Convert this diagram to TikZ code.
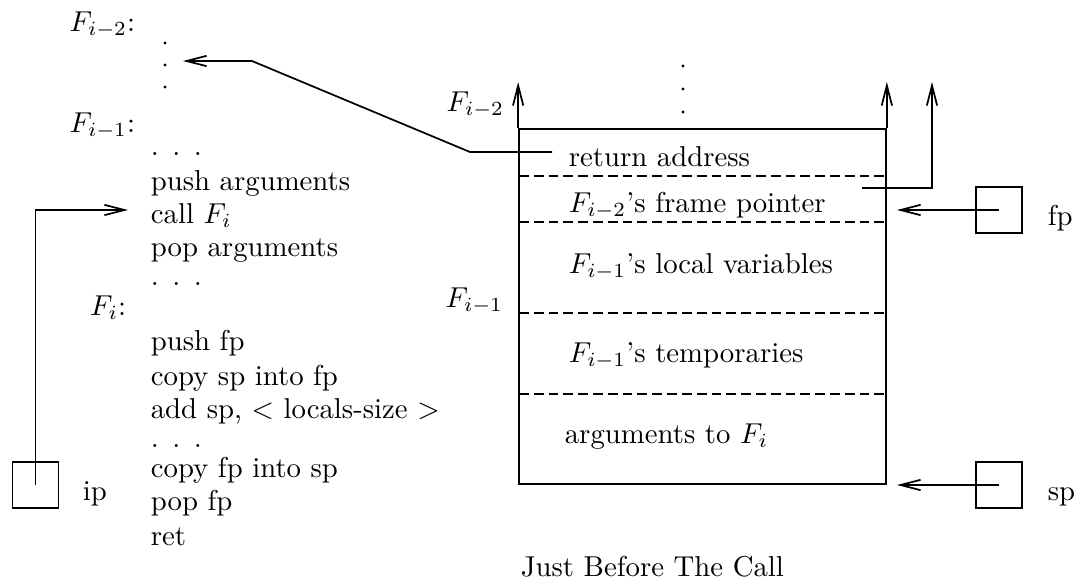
\documentclass[tikz,border=0pt]{standalone}
\usepackage{tikz}
\usetikzlibrary{positioning,arrows.meta}
\newcommand{\codedots}{.\hspace{4.7pt}.\hspace{4.7pt}.}

\begin{document}
\begin{tikzpicture}[
  x=0.3477pt, y=-0.3477pt,
  line width=0.6pt,
  code/.style={anchor=base west, inner sep=0pt},
  lbl/.style={anchor=base east, inner sep=0pt},
  reg/.style={draw, minimum size=16pt, inner sep=0pt},
  sep/.style={dash pattern=on 3.4pt off 1.75pt},
  ptr/.style={-{Straight Barb[length=7pt,width=3.6pt]}},
  dot/.style={fill, circle, inner sep=0pt, minimum size=1.1pt},
]
\useasboundingbox (0,0) rectangle (1082,584);

% Code
\node[lbl] (fim2) at (136,31) {$F_{i-2}$:};
\node[dot] (vdl1) at (165,43) {};
\node[dot] (vdl2) at (165,65) {};
\node[dot] (vdl3) at (165,87) {};
\node[lbl] (fim1) at (136,132) {$F_{i-1}$:};
\node[code] (c1) at (150,155) {\codedots};
\node[code] (c2) at (150,190) {push arguments};
\node[code] (call) at (150,223) {call $F_i$};
\node[code] (c4) at (150,256) {pop arguments};
\node[code] (c5) at (150,285) {\codedots};
\node[lbl] (fi) at (127,315) {$F_i$:};
\node[code] (c6) at (150,350) {push fp};
\node[code] (c7) at (150,385) {copy sp into fp};
\node[code] (c8) at (150,418) {add sp, $<$ locals-size $>$};
\node[code] (c9) at (150,447) {\codedots};
\node[code] (c10) at (150,477) {copy fp into sp};
\node[code] (c11) at (150,510) {pop fp};
\node[code] (c12) at (150,545) {ret};

% Stack
\node[draw, minimum width=127.6pt, minimum height=123.4pt, inner sep=0pt] (stack) at (702.5,306.5) {};
\draw[sep] (519,176) -- (886,176);
\draw[sep] (519,222) -- (886,222);
\draw[sep] (519,313) -- (886,313);
\draw[sep] (519,394) -- (886,394);
\node[code] (ra) at (568,166) {return address};
\node[code] (sfp) at (568,212) {$F_{i-2}$'s frame pointer};
\node[code] (loc) at (568,273) {$F_{i-1}$'s local variables};
\node[code] (tmp) at (568,362) {$F_{i-1}$'s temporaries};
\node[code] (args) at (564,443) {arguments to $F_i$};
\node[lbl] (sfim2) at (505,111) {$F_{i-2}$};
\node[lbl] (sfim1) at (504,307) {$F_{i-1}$};
\node[dot] (vdr1) at (683,66) {};
\node[dot] (vdr2) at (683,89) {};
\node[dot] (vdr3) at (683,112) {};
\node[code] (cap) at (520,576) {Just Before The Call};

% Registers
\node[reg] (ipreg) at (35.5,485) {};
\node[code] (iplbl) at (82,500) {ip};
\node[reg] (fpreg) at (999,210) {};
\node[code] (fplbl) at (1047,225) {fp};
\node[reg] (spreg) at (999,485) {};
\node[code] (splbl) at (1047,500) {sp};

% Pointers
\coordinate (top) at (932,82);
\draw[ptr] (stack.north west) -- (stack.north west |- top);
\draw[ptr] (stack.north east) -- (stack.north east |- top);
\coordinate (sfpout) at (862,188);
\draw[ptr] (sfpout) -| (top);
\coordinate (raout) at (552,152);
\coordinate (rabend) at (470,152);
\coordinate (rakink) at (252,61);
\coordinate (ratip) at (183,61);
\draw[ptr] (raout) -- (rabend) -- (rakink) -- (ratip);
\coordinate (iptip) at (128,210);
\draw[ptr] (ipreg.center) |- (iptip);
\coordinate (fptip) at (897,210);
\draw[ptr] (fpreg.center) -- (fptip);
\coordinate (sptip) at (897,485);
\draw[ptr] (spreg.center) -- (sptip);
\end{tikzpicture}
\end{document}
